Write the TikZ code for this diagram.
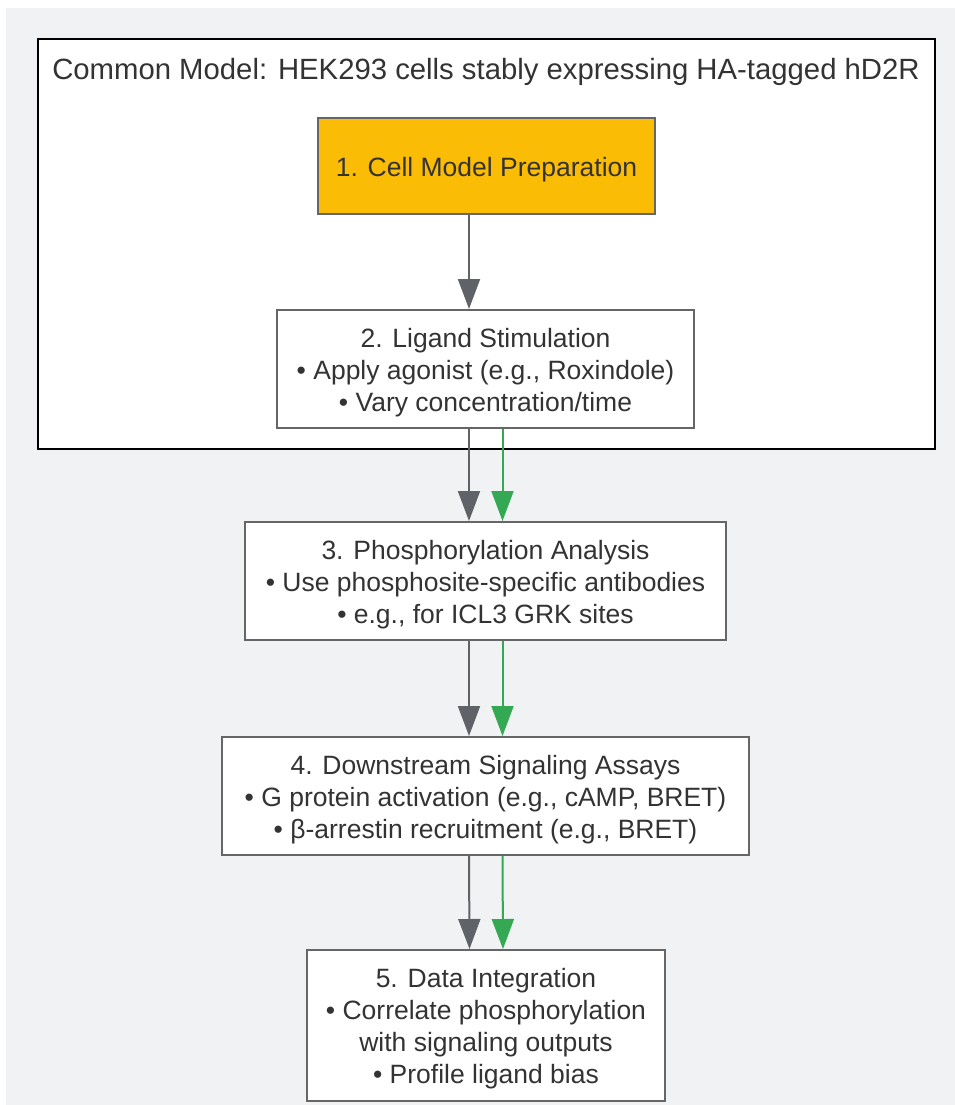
\documentclass[tikz,border=0pt]{standalone}
\usepackage{fontspec}
\setmainfont{Liberation Sans}
\usetikzlibrary{arrows.meta}
\definecolor{bg}{HTML}{F1F2F4}
\definecolor{txt}{HTML}{333333}
\definecolor{bord}{HTML}{666666}
\definecolor{arrgray}{HTML}{5F6368}
\definecolor{arrgreen}{HTML}{34A853}
\definecolor{boxorange}{HTML}{FBBC05}
\begin{document}
\begin{tikzpicture}[x=1pt,y=-1pt,
  stepbox/.style={draw=bord, line width=2pt, fill=white, inner sep=0pt},
  steptext/.style={text=txt, align=center, font=\fontsize{26.5}{32}\selectfont, inner sep=0pt},
  grayarrow/.style={draw=arrgray, line width=2pt, -{Triangle[width=22pt,length=30pt]}},
  greenarrow/.style={draw=arrgreen, line width=2pt, -{Triangle[width=22pt,length=30pt]}}]
\useasboundingbox (0,0) rectangle (955,1105);
\fill[bg] (6,8) rectangle (955,1105);
\draw[black, line width=2.5pt, fill=white] (38,39) rectangle (935,449);
\node[text=txt, font=\fontsize{29.3}{35}\selectfont, inner sep=0pt] (title) at (486,72) {Common Model: HEK293 cells stably expressing HA-tagged hD2R};
\node[stepbox, fill=boxorange, minimum width=337pt, minimum height=96pt] (s1) at (486.5,166) {};
\node[steptext] (t1) at ([yshift=-3.5pt]s1.center) {1. Cell Model Preparation};
\node[stepbox, minimum width=417pt, minimum height=118pt] (s2) at (485.5,369) {};
\node[steptext] (t2) at ([yshift=-3.5pt]s2.center) {2. Ligand Stimulation\\• Apply agonist (e.g., Roxindole)\\• Vary concentration/time};
\node[stepbox, minimum width=481pt, minimum height=118pt] (s3) at (485.5,581) {};
\node[steptext] (t3) at ([yshift=-3.5pt]s3.center) {3. Phosphorylation Analysis\\• Use phosphosite-specific antibodies\\• e.g., for ICL3 GRK sites};
\node[stepbox, minimum width=527pt, minimum height=118pt] (s4) at (485.5,796) {};
\node[steptext] (t4) at ([yshift=-3.5pt]s4.center) {4. Downstream Signaling Assays\\• G protein activation (e.g., cAMP, BRET)\\• β-arrestin recruitment (e.g., BRET)};
\node[stepbox, minimum width=358pt, minimum height=151pt] (s5) at (486,1025.5) {};
\node[steptext] (t5) at ([yshift=-3.5pt]s5.center) {5. Data Integration\\• Correlate phosphorylation\\with signaling outputs\\• Profile ligand bias};
\draw[grayarrow] ([xshift=-17.5pt]s1.south) -- ([xshift=-16.5pt]s2.north);
\draw[grayarrow] ([xshift=-16.5pt]s2.south) -- ([xshift=-16.5pt]s3.north);
\draw[greenarrow] ([xshift=17pt]s2.south) -- ([xshift=17pt]s3.north);
\draw[grayarrow] ([xshift=-16.5pt]s3.south) -- ([xshift=-16.5pt]s4.north);
\draw[greenarrow] ([xshift=17pt]s3.south) -- ([xshift=17pt]s4.north);
\draw[grayarrow] ([xshift=-16.5pt]s4.south) -- ([xshift=-16.5pt]s5.north);
\draw[greenarrow] ([xshift=17pt]s4.south) -- ([xshift=17pt]s5.north);
\end{tikzpicture}
\end{document}
